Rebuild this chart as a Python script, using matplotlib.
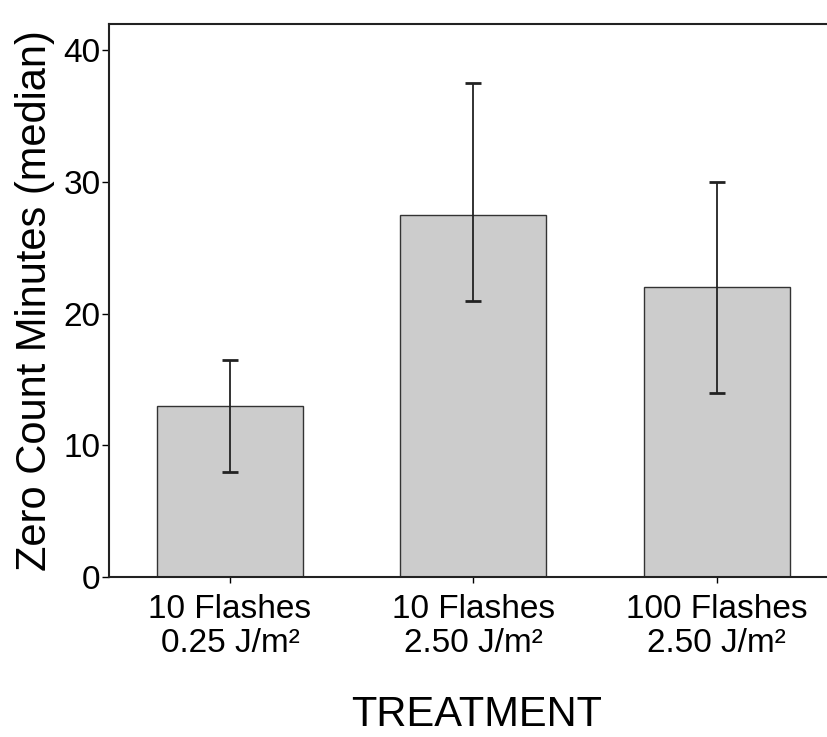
import matplotlib.pyplot as plt
import numpy as np

plt.rcParams['font.family'] = ['Liberation Sans', 'DejaVu Sans']

labels = ["10 Flashes\n0.25 J/m²", "10 Flashes\n2.50 J/m²", "100 Flashes\n2.50 J/m²"]
medians = [13.0, 27.5, 22.0]
err_low = [8.0, 21.0, 14.0]
err_high = [16.5, 37.5, 30.0]

x = np.arange(len(medians))
yerr = [np.array(medians) - np.array(err_low), np.array(err_high) - np.array(medians)]

fig = plt.figure(figsize=(8.28, 7.37), dpi=100)
ax = fig.add_axes([0.1316, 0.217, 0.8684, 0.7505])

ax.bar(x, medians, width=0.6, color="#cccccc", edgecolor="#333333", linewidth=1.0, zorder=2)
ax.errorbar(x, medians, yerr=yerr, fmt="none", ecolor="#222222", elinewidth=1.3,
            capsize=5.8, capthick=2.0, zorder=3)

ax.set_xlim(-0.497, 2.458)
ax.set_ylim(0, 42)
ax.set_yticks([0, 10, 20, 30, 40])
ax.set_xticks(x)
ax.set_xticklabels(labels, fontsize=24, linespacing=1.1)
ax.tick_params(axis="y", labelsize=24, length=5, width=1.0, pad=1)
ax.tick_params(axis="x", length=4.5, width=1.0, pad=8)

ax.spines["right"].set_visible(False)
for s in ["left", "bottom", "top"]:
    ax.spines[s].set_linewidth(1.5)
    ax.spines[s].set_color("#222222")

ax.set_ylabel("Zero Count Minutes (median)", fontsize=30)
ax.yaxis.set_label_coords(-0.075, 0.5)
ax.set_xlabel("TREATMENT", fontsize=30)
ax.xaxis.set_label_coords(0.512, -0.213)

plt.savefig("out.png", dpi=100)
